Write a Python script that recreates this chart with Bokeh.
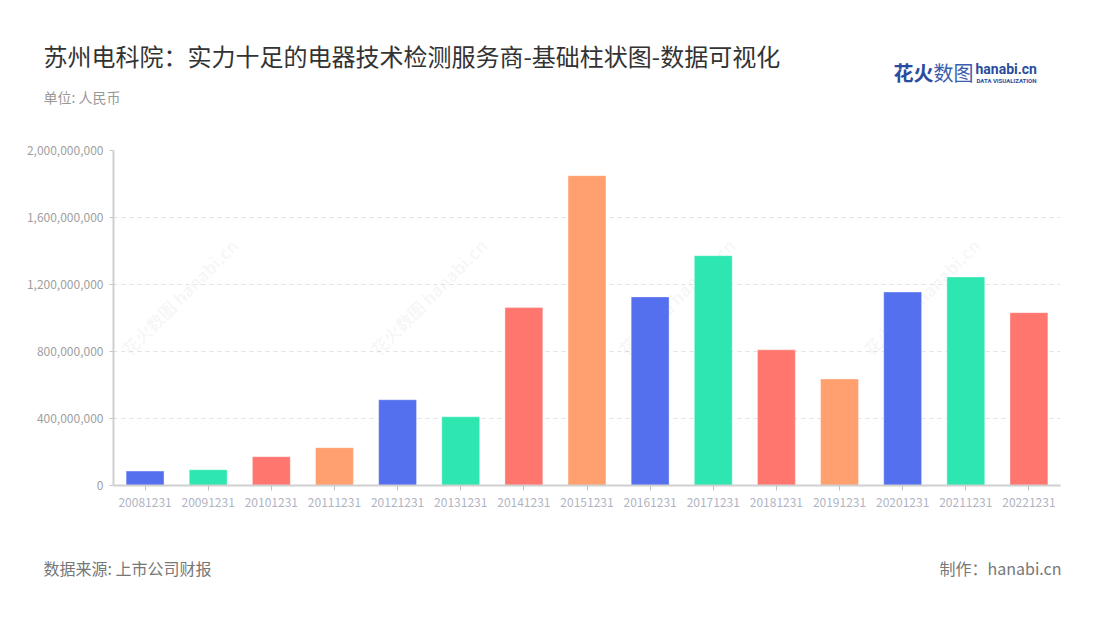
import math
from bokeh.plotting import figure
from bokeh.layouts import column, row
from bokeh.models import (ColumnDataSource, FactorRange, Range1d, FixedTicker,
                          NumeralTickFormatter, Label)
from bokeh.embed import file_html
from bokeh.resources import INLINE

# ---- data ----
categories = ["20081231", "20091231", "20101231", "20111231", "20121231",
              "20131231", "20141231", "20151231", "20161231", "20171231",
              "20181231", "20191231", "20201231", "20211231", "20221231"]
values = [86000000, 94000000, 172000000, 226000000, 512000000,
          410000000, 1062000000, 1850000000, 1126000000, 1372000000,
          810000000, 636000000, 1155000000, 1245000000, 1032000000]
y_ticks = [0, 400000000, 800000000, 1200000000, 1600000000, 2000000000]

title_text = "苏州电科院：实力十足的电器技术检测服务商-基础柱状图-数据可视化"
unit_text = "单位: 人民币"
source_text = "数据来源: 上市公司财报"
maker_text = "制作：hanabi.cn"

palette = ["#5470EE", "#2EE6B0", "#FF766F", "#FFA06E"]
colors = [palette[i % len(palette)] for i in range(len(categories))]

FONT = "Noto Sans CJK SC"
W = 1084
TOP_H = 140
MAIN_H = 380
BOT_H = 84


def blank_fig(h):
    f = figure(width=W, height=h, x_range=Range1d(0, W), y_range=Range1d(h, 0),
               output_backend="svg", toolbar_location=None, min_border=0)
    f.axis.visible = False
    f.grid.visible = False
    f.outline_line_color = None
    return f


def lab(f, X, Y, text, size, color, align="left", style="normal", baseline="middle",
        font=FONT):
    f.add_layout(Label(x=X, y=Y, text=text, text_font=font, text_font_size=size,
                       text_color=color, text_align=align, text_baseline=baseline,
                       text_font_style=style))


# ---- header ----
top = blank_fig(TOP_H)
lab(top, 43, 55, title_text, "24px", "#333333")
lab(top, 43, 96, unit_text, "14px", "#999999")
lab(top, 893, 72, "花火", "20px", "#2B4C9E", style="bold")
lab(top, 933, 72, "数图", "20px", "#3A5DB0")
lab(top, 975, 68, "hanabi.cn", "14px", "#2B4C9E", style="bold", font="Roboto")
lab(top, 976, 80, "DATA VISUALIZATION", "6px", "#2B4C9E", style="bold", font="Roboto")

# ---- main chart ----
src = ColumnDataSource(dict(x=categories, top=values, color=colors))
p = figure(width=W, height=MAIN_H, x_range=FactorRange(*categories, range_padding=0),
           y_range=Range1d(0, 2000000000), output_backend="svg",
           toolbar_location=None, min_border_left=113, min_border_right=W - 1060,
           min_border_top=10, min_border_bottom=35)
p.outline_line_color = None

# watermarks (behind bars), positioned in page pixels relative to the frame
wm_x = [133, 382, 630, 875]
wm_y = [360]
for X in wm_x:
    for Y in wm_y:
        p.add_layout(Label(x=X - 113, y=485 - Y, x_units="screen", y_units="screen",
                           text="花火数图 hanabi.cn", angle=math.pi / 4,
                           text_font=FONT, text_font_size="17px", text_font_style="bold",
                           text_color="#000000", text_alpha=0.05,
                           text_baseline="bottom", text_align="left", level="underlay"))

p.vbar(x="x", top="top", width=0.6, fill_color="color", source=src,
       line_color="white", line_alpha=0.35, line_width=1)

p.yaxis.ticker = FixedTicker(ticks=y_ticks)
p.yaxis.formatter = NumeralTickFormatter(format="0,0")
p.yaxis.axis_line_color = "#d0d0d0"
p.yaxis.axis_line_width = 2
p.yaxis.major_tick_line_color = "#c8c8c8"
p.yaxis.major_tick_in = 0
p.yaxis.major_tick_out = 4
p.yaxis.minor_tick_line_color = None
p.yaxis.major_label_text_font = FONT
p.yaxis.major_label_text_font_size = "12px"
p.yaxis.major_label_text_color = "#a0a0a0"
p.yaxis.major_label_standoff = 6

p.xaxis.axis_line_color = "#d0d0d0"
p.xaxis.axis_line_width = 2
p.xaxis.major_tick_line_color = "#c0c0c0"
p.xaxis.major_tick_in = 0
p.xaxis.major_tick_out = 5
p.xaxis.major_label_text_font = FONT
p.xaxis.major_label_text_font_size = "12px"
p.xaxis.major_label_text_color = "#b0b4c2"
p.xaxis.major_label_standoff = 7

p.xgrid.grid_line_color = None
p.ygrid.grid_line_color = "#e3e3e3"
p.ygrid.grid_line_dash = "4 4"
p.ygrid.grid_line_width = 1

# ---- footer ----
bot = blank_fig(BOT_H)
lab(bot, 43, 47, source_text, "16px", "#777777")
lab(bot, 1061, 47, maker_text, "16px", "#777777", align="right")

layout = column(row(top), row(p), row(bot), spacing=0)
open("out.html", "w").write(file_html(layout, INLINE))
